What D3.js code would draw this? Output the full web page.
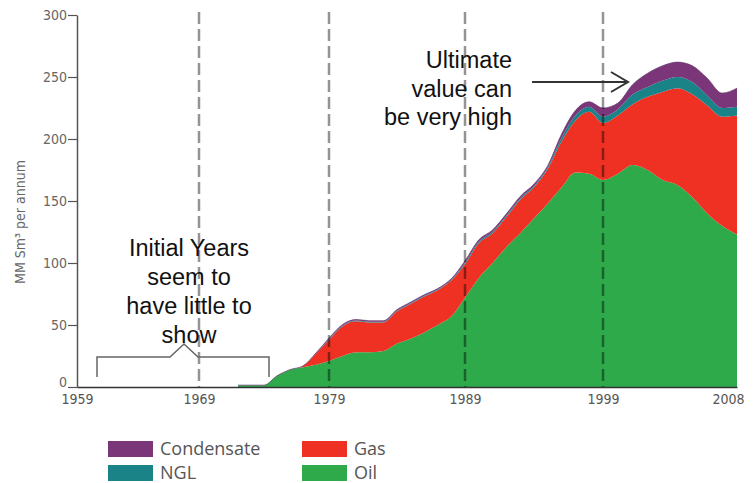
<!DOCTYPE html>
<html>
<head>
<meta charset="utf-8">
<script src="https://cdn.jsdelivr.net/npm/d3@7/dist/d3.min.js"></script>
<style>
  html, body { margin: 0; padding: 0; background: #fff; }
  svg { display: block; }
</style>
</head>
<body>
<svg id="chart" width="754" height="483"></svg>
<script>
// ---------- data ----------
const years = [1972,1973,1974,1975,1976,1977,1978,1979,1980,1981,1982,1983,1984,1985,1986,1987,1988,1989,1990,
  1991,1992,1993,1994,1995,1996,1997,1998,1999,2000,2001,2002,2003,2004,2005,2006,2007,2008];
const oil = [1.5,1.5,1.5,9,14,16,18,21,25,28,28,29,35,39,44,50,57,72,88,
  100,113,124,136,148,161,173,172,167,172,179,175,167,163,153,140,130,123];
const gas = [0,0,0,0,0,1,9,17,24,25,24,23,26,28,29,28,29,27,28,
  24,24,27,25,28,37,42,50,46,47,49,59,71,78,83,87,88,96];
const ngl = [0,0,0,0,0,0,0,0.6,0.6,0.6,0.6,0.6,0.6,0.6,0.6,0.6,0.6,1.2,1.2,
  1.2,1.2,1.2,1.2,1.2,3,4,4,5,5,8,8,9,9,10,8,7,7];
const condensate = [0,0,0,0,0,0,0.5,0.8,0.8,0.8,0.8,0.8,0.8,0.8,0.8,0.8,0.8,1.5,1.5,
  1.5,1.5,1.5,1.5,1.5,3,4,4,7,5,8,11,12,12,13,14,12,15];

const xTickYears = [1959,1969,1979,1989,1999,2008];
const yTicks = [0,50,100,150,200,250,300];
const markerYears = [1969,1979,1989,1999];
const seriesKeys = ["oil","gas","ngl","condensate"];
const seriesNames = {oil:"Oil", gas:"Gas", ngl:"NGL", condensate:"Condensate"};
const colors = {oil:"#2eaa4b", gas:"#ef3124", ngl:"#1a8388", condensate:"#7b367a"};

// ---------- layout ----------
const svg = d3.select("#chart");
const x = d3.scaleLinear().domain(xTickYears).range([77,199,329,465,603,737]);
const y = d3.scaleLinear().domain([0,300]).range([387,15]);

const table = years.map((yr,i) => ({year:yr, oil:oil[i], gas:gas[i], ngl:ngl[i], condensate:condensate[i]}));
const stacked = d3.stack().keys(seriesKeys)(table);

const area = d3.area()
  .x(d => x(d.data.year))
  .y0(d => y(d[0]))
  .y1(d => y(d[1]))
  .curve(d3.curveMonotoneX);

svg.append("g").selectAll("path")
  .data(stacked)
  .join("path")
  .attr("d", area)
  .attr("fill", d => colors[d.key]);

// thin outline on the top of the stack
svg.append("path")
  .datum(stacked[stacked.length-1])
  .attr("d", d3.line().x(d => x(d.data.year)).y(d => y(d[1])).curve(d3.curveMonotoneX))
  .attr("fill","none").attr("stroke","#6a3a70").attr("stroke-width",1).attr("opacity",0.7);

// dashed vertical markers
svg.append("g").selectAll("line")
  .data(markerYears)
  .join("line")
  .attr("x1", d => x(d)).attr("x2", d => x(d))
  .attr("y1", 12).attr("y2", y(0))
  .attr("stroke","#000").attr("stroke-opacity",0.42)
  .attr("stroke-width",2.5).attr("stroke-dasharray","12,5");

// axes
const tickFont = "'Liberation Sans Narrow','DejaVu Sans Condensed','Roboto',sans-serif";
const yAxis = svg.append("g").attr("transform","translate(77,0)")
  .call(d3.axisLeft(y).tickValues(yTicks).tickSize(9).tickSizeOuter(0).tickPadding(1));
yAxis.select(".domain").attr("stroke","#555").attr("stroke-width",1.5);
yAxis.selectAll(".tick line").attr("stroke","#555").attr("stroke-width",1.2);
yAxis.selectAll(".tick text").attr("fill","#666").style("font-family",tickFont).style("font-size","14px")
  .attr("dy", d => d === 0 ? "-0.05em" : "0.32em");

const xAxis = svg.append("g").attr("transform",`translate(0,${y(0)})`)
  .call(d3.axisBottom(x).tickValues(xTickYears).tickFormat(d3.format("d")).tickSize(0).tickSizeOuter(0).tickPadding(7));
xAxis.select(".domain").attr("stroke","#333").attr("stroke-width",1.5);
xAxis.selectAll(".tick text").attr("fill","#555").style("font-family",tickFont).style("font-size","14px")
  .attr("dx", d => d === 2008 ? -9 : 0);

// y axis title
svg.append("text")
  .attr("transform","translate(25,222) rotate(-90)")
  .attr("text-anchor","middle")
  .attr("fill","#666")
  .style("font-family",tickFont).style("font-size","14px")
  .text("MM Sm³ per annum");

// annotations
const annFont = "'Liberation Sans',Arial,sans-serif";
const ann1 = ["Initial Years","seem to","have little to","show"];
svg.append("g").selectAll("text").data(ann1).join("text")
  .attr("x",189).attr("y",(d,i)=>256+i*29)
  .attr("text-anchor","middle").attr("fill","#111")
  .style("font-family",annFont).style("font-size","23.5px")
  .text(d=>d);

const ann2 = ["Ultimate","value can","be very high"];
svg.append("g").selectAll("text").data(ann2).join("text")
  .attr("x",512).attr("y",(d,i)=>68+i*28.5)
  .attr("text-anchor","end").attr("fill","#111")
  .style("font-family",annFont).style("font-size","23.5px")
  .text(d=>d);

// arrow
svg.append("path")
  .attr("d","M532,82 L628,82 M611,72 L628,82 L611,92")
  .attr("fill","none").attr("stroke","#333").attr("stroke-width",2);

// brace
svg.append("path")
  .attr("d","M97,377 L97,357 L170,357 L184,344 L198,357 L269,357 L269,377")
  .attr("fill","none").attr("stroke","#666").attr("stroke-width",1.5);

// legend
const legendItems = [
  {key:"condensate", x:108, y:441},
  {key:"ngl", x:108, y:465},
  {key:"gas", x:302, y:441},
  {key:"oil", x:302, y:465}
];
const lg = svg.append("g").selectAll("g").data(legendItems).join("g");
lg.append("rect").attr("x",d=>d.x).attr("y",d=>d.y).attr("width",45).attr("height",16)
  .attr("fill",d=>colors[d.key]);
lg.append("text").attr("x",d=>d.x+52).attr("y",d=>d.y+14)
  .attr("fill","#555").style("font-family","'Open Sans',sans-serif").style("font-size","18px")
  .text(d=>seriesNames[d.key]);
</script>
</body>
</html>
